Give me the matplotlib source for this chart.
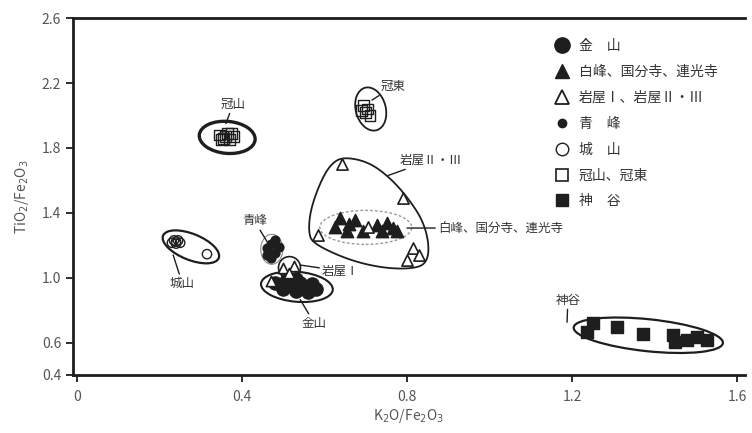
import numpy as np
import matplotlib
matplotlib.use('Agg')
import matplotlib.pyplot as plt
from matplotlib.patches import Ellipse, Polygon
from matplotlib.lines import Line2D
from matplotlib.transforms import ScaledTranslation

plt.rcParams['font.family'] = ['Noto Sans CJK JP', 'DejaVu Sans']
plt.rcParams['mathtext.fontset'] = 'dejavusans'

# data (K2O/Fe2O3, TiO2/Fe2O3)
kanayama_x = [0.48, 0.50, 0.51, 0.52, 0.53, 0.54, 0.55, 0.56, 0.57, 0.58, 0.50, 0.53, 0.545]
kanayama_y = [0.97, 0.93, 0.99, 0.95, 0.92, 0.97, 0.94, 0.91, 0.96, 0.93, 0.96, 0.99, 0.95]

hakuho_x = [0.638, 0.674, 0.625, 0.654, 0.727, 0.751, 0.767, 0.739, 0.775, 0.693, 0.66]
hakuho_y = [1.37, 1.355, 1.31, 1.29, 1.325, 1.337, 1.306, 1.29, 1.29, 1.29, 1.33]

iwaya1_x = [0.50, 0.525, 0.515, 0.47]
iwaya1_y = [1.06, 1.07, 1.03, 0.98]

iwaya23_x = [0.643, 0.79, 0.585, 0.705, 0.815, 0.80, 0.828]
iwaya23_y = [1.70, 1.49, 1.265, 1.31, 1.18, 1.11, 1.14]

seiho_x = [0.46, 0.47, 0.48, 0.47, 0.49, 0.48, 0.46]
seiho_y = [1.18, 1.21, 1.15, 1.12, 1.19, 1.23, 1.14]

jouyama_x = [0.235, 0.245, 0.24, 0.23, 0.25, 0.24, 0.315]
jouyama_y = [1.23, 1.23, 1.21, 1.215, 1.215, 1.222, 1.145]

kanmuri_x = [0.345, 0.355, 0.365, 0.37, 0.36, 0.38, 0.35, 0.375]
kanmuri_y = [1.88, 1.86, 1.89, 1.85, 1.87, 1.87, 1.85, 1.89]

kanto_x = [0.695, 0.70, 0.71, 0.705, 0.69]
kanto_y = [2.06, 2.02, 2.00, 2.04, 2.03]

kamiya_x = [1.236, 1.25, 1.309, 1.372, 1.445, 1.45, 1.479, 1.503, 1.527]
kamiya_y = [0.665, 0.72, 0.696, 0.653, 0.647, 0.604, 0.616, 0.635, 0.616]

legend_labels = ['金　山', '白峰、国分寺、連光寺', '岩屋Ⅰ、岩屋Ⅱ・Ⅲ', '青　峰',
                 '城　山', '冠山、冠東', '神　谷']

xticks = [0, 0.4, 0.8, 1.2, 1.6]
xticklabels = ['0', '0.4', '0.8', '1.2', '1.6']
yticks = [0.4, 0.6, 1.0, 1.4, 1.8, 2.2, 2.6]

fig = plt.figure(figsize=(7.52, 4.33), dpi=100)
ax = fig.add_axes([0.097, 0.134, 0.894, 0.824])
ax.set_xlim(-0.01, 1.62)
ax.set_ylim(0.4, 2.6)

ink = '#1e1e1e'

# enclosures drawn as ellipses sized in pixels around a data centre
def ring(cx, cy, w_px, h_px, angle=0, lw=1.3, color=ink, ls='-'):
    tr = fig.dpi_scale_trans + ScaledTranslation(cx, cy, ax.transData)
    e = Ellipse((0, 0), w_px / 100, h_px / 100, angle=angle, transform=tr,
                fill=False, lw=lw, edgecolor=color, linestyle=ls, zorder=2)
    ax.add_patch(e)

def chaikin(pts, n=3):
    pts = np.asarray(pts, float)
    for _ in range(n):
        nxt = np.roll(pts, -1, axis=0)
        q = 0.75 * pts + 0.25 * nxt
        r = 0.25 * pts + 0.75 * nxt
        pts = np.empty((2 * len(q), 2))
        pts[0::2] = q
        pts[1::2] = r
    return pts

# 岩屋Ⅱ・Ⅲ outline
iwaya_outline = [(0.645, 1.745), (0.705, 1.715), (0.755, 1.625), (0.80, 1.50),
                 (0.838, 1.355), (0.853, 1.214), (0.850, 1.105), (0.826, 1.058),
                 (0.752, 1.055), (0.662, 1.105), (0.572, 1.21), (0.561, 1.281),
                 (0.566, 1.42), (0.590, 1.59), (0.615, 1.70)]
ax.add_patch(Polygon(chaikin(iwaya_outline), closed=True, fill=False,
                     lw=1.3, edgecolor=ink, zorder=2))

ring(0.364, 1.865, 56, 32, angle=-5, lw=2.4)      # 冠山
ring(0.712, 2.04, 30, 44, angle=15, lw=1.3)       # 冠東
ring(0.276, 1.19, 60, 26, angle=-22, lw=1.6)      # 城山
ring(0.533, 0.944, 72, 30, angle=-5, lw=1.5)      # 金山
ring(0.515, 1.062, 22, 22, lw=1.2)                # 岩屋Ⅰ
ring(0.472, 1.175, 22, 30, lw=0.8, color='#888888')  # 青峰
ring(0.70, 1.31, 92, 34, lw=1.0, color='#999999', ls=(0, (2, 1.5)))  # 白峰
ring(1.385, 0.645, 150, 32, angle=-6, lw=1.6)     # 神谷

# points
ax.scatter(kanayama_x, kanayama_y, s=90, marker='o', color=ink, zorder=3)
ax.scatter(hakuho_x, hakuho_y, s=80, marker='^', color=ink, zorder=3)
ax.scatter(iwaya1_x, iwaya1_y, s=55, marker='^', facecolor='white', edgecolor=ink, lw=1.2, zorder=4)
ax.scatter(iwaya23_x, iwaya23_y, s=65, marker='^', facecolor='white', edgecolor=ink, lw=1.2, zorder=4)
ax.scatter(seiho_x, seiho_y, s=40, marker='o', color=ink, zorder=3)
ax.scatter(jouyama_x, jouyama_y, s=45, marker='o', facecolor='none', edgecolor=ink, lw=1.0, zorder=3)
ax.scatter(kanmuri_x, kanmuri_y, s=60, marker='s', facecolor='none', edgecolor=ink, lw=1.0, zorder=3)
ax.scatter(kanto_x, kanto_y, s=60, marker='s', facecolor='none', edgecolor=ink, lw=1.0, zorder=3)
ax.scatter(kamiya_x, kamiya_y, s=75, marker='s', color=ink, zorder=3)

# labels with leader lines
lab = dict(fontsize=9, color='#333333', zorder=5)
line = dict(arrowstyle='-', color=ink, lw=1.0, shrinkA=0, shrinkB=0)
ax.annotate('冠山', xy=(0.361, 1.95), xytext=(0.378, 2.07), ha='center', va='center', arrowprops=line, **lab)
ax.annotate('冠東', xy=(0.715, 2.095), xytext=(0.737, 2.14), ha='left', va='bottom', arrowprops=line, **lab)
ax.annotate('岩屋Ⅱ・Ⅲ', xy=(0.754, 1.63), xytext=(0.783, 1.725), ha='left', va='center', arrowprops=line, **lab)
ax.annotate('白峰、国分寺、連光寺', xy=(0.80, 1.306), xytext=(0.875, 1.306), ha='left', va='center', arrowprops=line, **lab)
ax.annotate('岩屋Ⅰ', xy=(0.541, 1.078), xytext=(0.594, 1.041), ha='left', va='center', arrowprops=line, **lab)
ax.annotate('金山', xy=(0.541, 0.865), xytext=(0.575, 0.72), ha='center', va='center', arrowprops=line, **lab)
ax.annotate('青峰', xy=(0.466, 1.20), xytext=(0.43, 1.35), ha='center', va='center', arrowprops=line, **lab)
ax.annotate('城山', xy=(0.233, 1.14), xytext=(0.255, 0.965), ha='center', va='center', arrowprops=line, **lab)
ax.annotate('神谷', xy=(1.188, 0.725), xytext=(1.19, 0.862), ha='center', va='center', arrowprops=line, **lab)

# legend
handles = [
    Line2D([], [], ls='none', marker='o', markersize=11, color=ink),
    Line2D([], [], ls='none', marker='^', markersize=10, color=ink),
    Line2D([], [], ls='none', marker='^', markersize=10, markerfacecolor='white', markeredgecolor=ink, markeredgewidth=1.3),
    Line2D([], [], ls='none', marker='o', markersize=6, color=ink),
    Line2D([], [], ls='none', marker='o', markersize=9, markerfacecolor='white', markeredgecolor=ink, markeredgewidth=1.0),
    Line2D([], [], ls='none', marker='s', markersize=9, markerfacecolor='white', markeredgecolor=ink, markeredgewidth=1.2),
    Line2D([], [], ls='none', marker='s', markersize=8, color=ink),
]
leg = ax.legend(handles, legend_labels, loc='upper left', bbox_to_anchor=(0.705, 0.962),
                frameon=False, fontsize=10, labelspacing=0.86, handletextpad=0.6,
                handlelength=1.2, borderpad=0)
for t in leg.get_texts():
    t.set_color('#333333')

# axes styling
ax.set_xticks(xticks)
ax.set_xticklabels(xticklabels)
ax.set_yticks(yticks)
ax.tick_params(direction='out', length=5, width=1.3, colors=ink, labelcolor='#555555', labelsize=10)
ax.tick_params(axis='x', pad=6)
for side in ['left', 'bottom', 'top']:
    ax.spines[side].set_linewidth(2.0)
    ax.spines[side].set_color(ink)
ax.spines['right'].set_visible(False)

ax.set_xlabel(r'K$_2$O/Fe$_2$O$_3$', fontsize=10, color='#555555', labelpad=2)
ax.set_ylabel(r'TiO$_2$/Fe$_2$O$_3$', fontsize=10, color='#555555', labelpad=8)

fig.savefig('out.png', dpi=100)
